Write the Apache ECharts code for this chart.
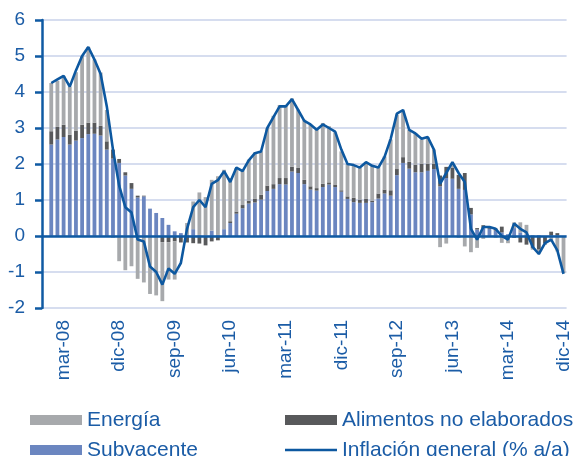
<!DOCTYPE html>
<html>
<head>
<meta charset="utf-8">
<script src="https://cdn.jsdelivr.net/npm/echarts@6/dist/echarts.min.js"></script>
<style>
html,body{margin:0;padding:0;background:#fff;}
#chart{width:573px;height:456px;}
</style>
</head>
<body>
<div id="chart"></div>
<script>
// Months: ene-08 .. dic-14
const monthNames = ['ene','feb','mar','abr','may','jun','jul','ago','sep','oct','nov','dic'];
const years = ['08','09','10','11','12','13','14'];
const months = [];
years.forEach(y => monthNames.forEach(m => months.push(m + '-' + y)));

const tickLabels = ['mar-08','dic-08','sep-09','jun-10','mar-11','dic-11','sep-12','jun-13','mar-14','dic-14'];

// Contributions (pp)
const subyacente = [
  2.54,2.68,2.75,2.54,2.65,2.72,2.83,2.84,2.79,2.40,2.15,2.03,
  1.68,1.31,1.07,1.10,0.76,0.64,0.50,0.31,0.13,0.08,0.03,0.19,
  0.03,0.02,0.15,0.03,0.19,0.36,0.62,0.77,0.90,0.93,1.01,1.25,
  1.31,1.44,1.43,1.79,1.75,1.44,1.29,1.26,1.36,1.43,1.36,1.23,
  1.03,0.94,0.92,0.92,0.94,1.04,1.18,1.12,1.69,2.03,1.87,1.77,
  1.77,1.81,1.86,1.38,1.61,1.59,1.31,1.28,0.60,0.18,0.22,0.20,
  0.15,0.10,0.05,0.22,0.10,0.05,0.02,0.02,0.00,0.02,0.02,0.00
];
const alimentos = [
  0.37,0.35,0.34,0.27,0.27,0.37,0.32,0.31,0.27,0.23,0.25,0.11,
  0.09,0.16,0.05,0.02,0.00,0.00,-0.17,-0.17,-0.15,-0.18,-0.18,-0.20,
  -0.21,-0.26,-0.15,-0.12,-0.02,0.05,0.06,0.09,0.08,0.11,0.14,0.15,
  0.13,0.17,0.18,0.13,0.14,0.12,0.09,0.07,0.09,0.06,0.07,0.04,
  0.07,0.12,0.09,0.11,0.04,0.14,0.11,0.15,0.17,0.16,0.19,0.21,
  0.23,0.19,0.14,0.30,0.31,0.30,0.39,0.47,0.18,0.04,0.08,0.05,
  0.06,0.16,0.00,-0.05,-0.18,-0.24,-0.33,-0.38,-0.20,0.10,0.06,0.00
];
const energia = [
  1.34,1.28,1.36,1.34,1.63,1.91,2.10,1.75,1.48,0.87,-0.05,-0.70,
  -0.95,-0.84,-1.19,-1.29,-1.61,-1.65,-1.64,-1.04,-1.06,0.00,0.33,0.77,
  1.18,1.06,1.41,1.63,1.65,1.20,1.21,0.96,1.14,1.28,1.20,1.60,
  1.90,2.03,2.03,1.90,1.62,1.67,1.71,1.62,1.69,1.56,1.45,1.08,
  0.90,0.91,0.88,1.02,0.97,0.76,0.92,1.41,1.51,1.29,0.89,0.88,
  0.68,0.74,0.40,-0.31,-0.21,0.10,-0.05,-0.29,-0.45,-0.33,-0.08,0.00,
  -0.05,-0.19,-0.20,0.16,0.28,0.26,-0.05,-0.10,-0.05,-0.15,-0.43,-1.03
];
const general = [
  4.25,4.35,4.45,4.15,4.6,5.0,5.25,4.9,4.5,3.6,2.4,1.4,
  0.8,0.65,-0.1,-0.15,-0.85,-1.0,-1.35,-0.9,-1.05,-0.75,0.2,0.8,
  1.0,0.8,1.45,1.55,1.8,1.5,1.9,1.8,2.1,2.3,2.35,3.0,
  3.3,3.6,3.6,3.8,3.5,3.2,3.1,2.95,3.1,3.0,2.9,2.4,
  2.0,1.97,1.9,2.05,1.95,1.9,2.2,2.7,3.4,3.5,2.95,2.85,
  2.7,2.75,2.4,1.45,1.75,2.05,1.75,1.5,0.2,-0.1,0.25,0.25,
  0.2,0.0,-0.1,0.35,0.2,0.1,-0.3,-0.5,-0.2,-0.1,-0.4,-1.05
];

const textColor = '#1b5ca6';
const axisBlue = '#0f5aa3';
const font = 'Liberation Sans, Arial, sans-serif';
const legendText = {fontSize: 21, lineHeight: 22, fontFamily: font, color: textColor};

function legendAt(name, left, top, itemHeight) {
  return {
    left: left, top: top, itemWidth: 52, itemHeight: itemHeight, itemGap: 0,
    icon: 'rect',
    data: [name],
    textStyle: legendText
  };
}

const chart = echarts.init(document.getElementById('chart'), null, {renderer: 'canvas'});
chart.setOption({
  animation: false,
  grid: {left: 42, right: 4, top: 20, bottom: 148, containLabel: false},
  xAxis: {
    type: 'category',
    data: months,
    min: -1,
    boundaryGap: true,
    axisLine: {show: false, onZero: false},
    axisTick: {show: false},
    splitLine: {show: false},
    axisLabel: {
      interval: (idx, val) => tickLabels.indexOf(val) >= 0,
      rotate: 90,
      margin: 12,
      fontSize: 19,
      fontFamily: font,
      color: textColor
    }
  },
  yAxis: {
    type: 'value',
    min: -2, max: 6, interval: 1,
    axisLine: {show: true, lineStyle: {color: axisBlue, width: 2.5}},
    axisTick: {show: true, length: 7, lineStyle: {color: axisBlue, width: 2.5}},
    axisLabel: {margin: 17, fontSize: 19, fontFamily: font, color: textColor},
    splitLine: {show: true, lineStyle: {color: '#c8d2ea', width: 1.5}}
  },
  legend: [
    legendAt('Energía', 25, 404, 10),
    legendAt('Alimentos no elaborados', 280, 404, 10),
    legendAt('Subyacente', 25, 434, 10),
    legendAt('Inflación general (% a/a)', 280, 434, 2.5)
  ],
  series: [
    {name: 'Subyacente', type: 'bar', stack: 'c', barWidth: 3.8, data: subyacente,
     itemStyle: {color: '#6b86c0'}},
    {name: 'Alimentos no elaborados', type: 'bar', stack: 'c', barWidth: 3.8, data: alimentos,
     itemStyle: {color: '#58595b'}},
    {name: 'Energía', type: 'bar', stack: 'c', barWidth: 3.8, data: energia,
     itemStyle: {color: '#a7a9ac'},
     markLine: {silent: true, symbol: 'none', label: {show: false},
       lineStyle: {color: axisBlue, width: 2.5, type: 'solid'},
       data: [{yAxis: 0}]}},
    {name: 'Inflación general (% a/a)', type: 'line', data: general,
     symbol: 'none', showSymbol: false,
     lineStyle: {color: '#0d58a0', width: 2.6}, itemStyle: {color: '#0d58a0'}, z: 5}
  ]
});
</script>
</body>
</html>
